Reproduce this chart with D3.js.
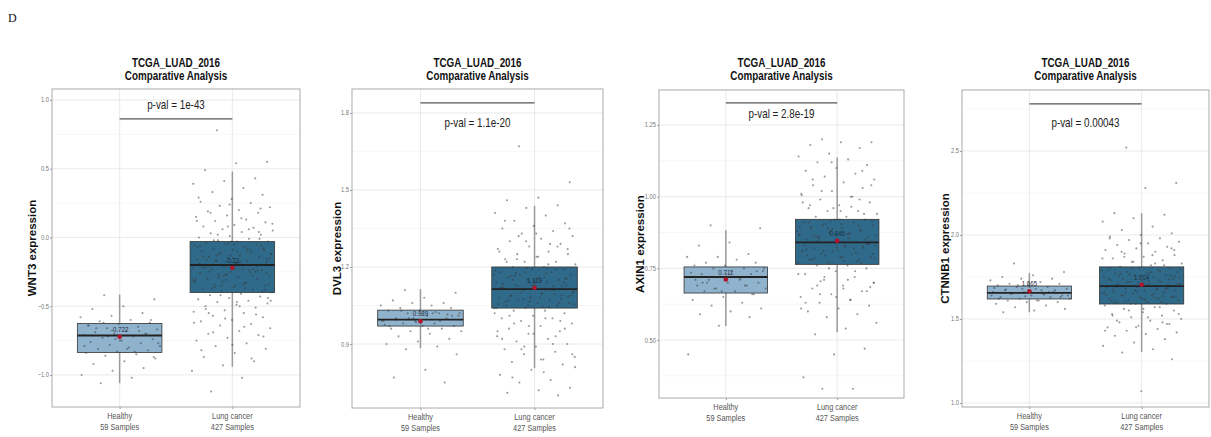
<!DOCTYPE html>
<html><head><meta charset="utf-8">
<script src="https://cdn.jsdelivr.net/npm/d3@7"></script>
<style>body{margin:0;background:#fff}svg{display:block}</style>
</head><body>
<svg id="c" width="1211" height="437"></svg>
<script>
const categories = ["Healthy", "Lung cancer"];
const sampleLabels = ["59  Samples", "427  Samples"];
const genes = ["WNT3", "DVL3", "AXIN1", "CTNNB1"];
const pvals = ["p-val = 1e-43", "p-val = 1.1e-20", "p-val = 2.8e-19", "p-val = 0.00043"];
const yDomains = [[-1.233, 1.08], [0.651, 1.893], [0.298, 1.372], [0.976, 2.863]];
const yTicks = [[-1.0, -0.5, 0.0, 0.5, 1.0], [0.9, 1.2, 1.5, 1.8], [0.50, 0.75, 1.00, 1.25], [1.0, 1.5, 2.0, 2.5]];
const yMinor = [[-0.75, -0.25, 0.25, 0.75], [1.05, 1.35, 1.65], [0.375, 0.625, 0.875, 1.125], [1.25, 1.75, 2.25, 2.75]];
const tickFormats = [".1f", ".1f", ".2f", ".1f"];
const bracketValues = [0.862, 1.839, 1.327, 2.78];
const pvalTextValues = [0.935, 1.745, 1.274, 2.643];
// box stats per panel: [healthy, lung]
const q1 = [[-0.836, -0.40], [0.970, 1.040], [0.664, 0.764], [1.619, 1.589]];
const medians = [[-0.713, -0.20], [0.995, 1.114], [0.720, 0.841], [1.655, 1.696]];
const q3 = [[-0.625, -0.03], [1.032, 1.200], [0.755, 0.921], [1.696, 1.810]];
const whiskLo = [[-1.06, -0.94], [0.884, 0.806], [0.549, 0.527], [1.540, 1.304]];
const whiskHi = [[-0.415, 0.48], [1.114, 1.438], [0.883, 1.137], [1.774, 2.130]];
const means = [[-0.722, -0.22], [0.989, 1.119], [0.711, 0.846], [1.665, 1.704]];
const meanLabels = [["-0.722", "-0.22"], ["0.989", "1.119"], ["0.711", "0.846"], ["1.665", "1.704"]];

const pointsWNT3 = [
 [-0.42,-0.45,-0.50,-0.52,-0.55,-0.57,-0.58,-0.60,-0.61,-0.62,-0.63,-0.64,-0.65,-0.66,-0.67,-0.68,-0.69,-0.70,-0.70,-0.71,-0.72,-0.73,-0.74,-0.75,-0.76,-0.77,-0.78,-0.79,-0.80,-0.81,-0.82,-0.83,-0.84,-0.85,-0.86,-0.88,-0.90,-0.92,-0.95,-0.97,-1.00,-1.02,-1.06,-0.60,-0.75,-0.64,-0.68,-0.72,-0.77,-0.81,-0.66,-0.70,-0.74,-0.79,-0.83,-0.62,-0.87],
 [0.78,0.55,0.54,0.49,0.43,0.41,0.39,0.36,0.33,0.31,0.28,0.26,0.25,0.23,0.22,0.20,0.19,0.18,0.16,0.15,0.13,0.12,0.11,0.09,0.08,0.07,0.06,0.05,0.04,0.03,0.02,0.01,0.00,-0.01,-0.02,-0.03,-0.03,-0.04,-0.05,-0.05,-0.06,-0.07,-0.08,-0.08,-0.09,-0.10,-0.11,-0.11,-0.12,-0.13,-0.14,-0.14,-0.15,-0.16,-0.17,-0.17,-0.18,-0.19,-0.20,-0.20,-0.21,-0.22,-0.23,-0.23,-0.24,-0.25,-0.26,-0.26,-0.27,-0.28,-0.29,-0.30,-0.30,-0.31,-0.32,-0.33,-0.34,-0.35,-0.36,-0.37,-0.38,-0.39,-0.40,-0.41,-0.42,-0.43,-0.44,-0.45,-0.46,-0.47,-0.48,-0.49,-0.50,-0.51,-0.53,-0.54,-0.55,-0.57,-0.58,-0.60,-0.61,-0.63,-0.64,-0.66,-0.68,-0.70,-0.71,-0.73,-0.75,-0.77,-0.79,-0.81,-0.84,-0.87,-0.90,-0.93,-0.97,-1.02,-1.12,-0.06,-0.13,-0.19,-0.24,-0.29,-0.34,-0.10,-0.16,-0.21,-0.27,-0.32,-0.37,-0.02,-0.09,-0.15,-0.22,-0.28,-0.35,-0.12,-0.18,-0.25,
  -0.01,-0.04,-0.07,-0.10,-0.13,-0.16,-0.19,-0.22,-0.25,-0.28,-0.31,-0.34,-0.37,-0.39,-0.03,-0.06,-0.09,-0.12,-0.15,-0.18,-0.21,-0.24,-0.27,-0.30,-0.33,-0.36,-0.38,-0.05,-0.14,-0.23,-0.32,0.10,0.14,0.18,0.21,0.24,0.29,0.06,0.02,-0.44,-0.47,-0.52,-0.56,-0.59,-0.62,-0.65,-0.69,-0.72,-0.78,-0.82,-0.88,-0.42,-0.46,-0.50,-0.55,0.04,0.08,0.12,-0.08,-0.17,-0.26,-0.35]
];
const pointsDVL3 = [
 [1.11,1.10,1.08,1.07,1.06,1.06,1.05,1.05,1.04,1.04,1.03,1.03,1.02,1.02,1.01,1.01,1.00,1.00,0.99,0.99,0.98,0.98,0.97,0.97,0.96,0.96,0.95,0.95,0.94,0.93,0.92,0.91,0.90,0.89,0.88,0.86,0.80,0.77,0.75,1.00,0.99,1.02,1.03,1.01,0.98,0.97,0.99,1.00,1.02,0.96,0.995,1.015,0.985,0.975,1.025],
 [1.67,1.53,1.47,1.46,1.44,1.43,1.41,1.40,1.38,1.37,1.36,1.35,1.34,1.33,1.32,1.31,1.30,1.29,1.28,1.27,1.26,1.25,1.25,1.24,1.23,1.22,1.22,1.21,1.20,1.20,1.19,1.19,1.18,1.18,1.17,1.17,1.16,1.16,1.15,1.15,1.14,1.14,1.13,1.13,1.12,1.12,1.11,1.11,1.10,1.10,1.09,1.09,1.08,1.08,1.07,1.07,1.06,1.06,1.05,1.05,1.04,1.04,1.03,1.03,1.02,1.01,1.00,1.00,0.99,0.98,0.97,0.96,0.95,0.94,0.93,0.92,0.91,0.90,0.89,0.88,0.87,0.86,0.85,0.84,0.83,0.82,0.80,0.78,0.76,0.75,0.73,0.72,0.71,0.70,1.195,1.185,1.175,1.165,1.155,1.145,1.135,1.125,1.115,1.105,1.095,1.085,1.075,1.065,1.055,1.045,1.125,1.085,1.155,1.065,
  1.19,1.18,1.17,1.16,1.15,1.14,1.13,1.12,1.11,1.10,1.09,1.08,1.07,1.06,1.05,1.04,1.195,1.175,1.155,1.135,1.115,1.095,1.075,1.055,1.045,1.165,1.125,1.085,1.26,1.29,1.32,1.35,1.24,1.22,1.28,1.30,1.02,1.00,0.98,0.96,0.94,0.92,0.90,0.88,0.86,0.84,1.01,0.99,0.97,0.95,1.21,1.23,1.27,1.33,1.38,0.93,0.89,0.81,0.79,0.77]
];
const pointsAXIN1 = [
 [0.90,0.89,0.84,0.83,0.80,0.79,0.79,0.78,0.77,0.77,0.76,0.76,0.75,0.75,0.74,0.74,0.73,0.73,0.72,0.72,0.71,0.71,0.70,0.70,0.69,0.69,0.68,0.68,0.67,0.67,0.66,0.65,0.64,0.63,0.62,0.61,0.60,0.59,0.58,0.55,0.45,0.72,0.70,0.74,0.73,0.71,0.69,0.68,0.75,0.72,0.70,0.66,0.67,0.735,0.715],
 [1.20,1.19,1.19,1.18,1.17,1.15,1.14,1.13,1.12,1.11,1.10,1.09,1.08,1.07,1.06,1.05,1.04,1.03,1.02,1.01,1.00,0.99,0.98,0.97,0.96,0.95,0.95,0.94,0.93,0.93,0.92,0.92,0.91,0.91,0.90,0.90,0.89,0.89,0.88,0.88,0.87,0.87,0.86,0.86,0.85,0.85,0.84,0.84,0.83,0.83,0.82,0.82,0.81,0.81,0.80,0.80,0.79,0.79,0.78,0.78,0.77,0.77,0.76,0.76,0.75,0.74,0.73,0.72,0.71,0.70,0.69,0.68,0.67,0.66,0.65,0.64,0.63,0.62,0.61,0.60,0.59,0.58,0.56,0.54,0.52,0.47,0.45,0.37,0.33,0.33,0.915,0.905,0.895,0.885,0.875,0.865,0.855,0.845,0.835,0.825,0.815,0.805,0.795,0.785,0.775,0.865,0.825,0.885,1.005,0.965,0.705,0.685,
  0.92,0.91,0.90,0.89,0.88,0.87,0.86,0.85,0.84,0.83,0.82,0.81,0.80,0.79,0.78,0.77,0.915,0.895,0.875,0.855,0.835,0.815,0.795,0.775,0.905,0.865,0.825,0.785,0.94,0.96,0.98,1.00,1.02,1.04,0.95,0.97,0.99,0.75,0.73,0.71,0.69,0.67,0.65,0.63,0.74,0.72,0.70,0.68,1.06,1.09,1.12,0.61,0.64,0.66]
];
const pointsCTNNB1 = [
 [1.83,1.78,1.76,1.75,1.74,1.74,1.73,1.72,1.71,1.71,1.70,1.70,1.69,1.69,1.68,1.68,1.67,1.67,1.66,1.66,1.65,1.65,1.64,1.64,1.63,1.63,1.62,1.62,1.61,1.61,1.60,1.60,1.59,1.58,1.57,1.56,1.55,1.54,1.66,1.68,1.64,1.67,1.65,1.63,1.69,1.62,1.66,1.70,1.64,1.61,1.675,1.655,1.635,1.685,1.645],
 [2.52,2.31,2.28,2.13,2.12,2.10,2.08,2.05,2.03,2.01,2.00,1.99,1.98,1.97,1.96,1.95,1.94,1.93,1.92,1.91,1.90,1.89,1.88,1.87,1.86,1.85,1.84,1.83,1.82,1.81,1.80,1.80,1.79,1.79,1.78,1.78,1.77,1.77,1.76,1.76,1.75,1.75,1.74,1.74,1.73,1.73,1.72,1.72,1.71,1.71,1.70,1.70,1.69,1.69,1.68,1.68,1.67,1.67,1.66,1.66,1.65,1.65,1.64,1.64,1.63,1.63,1.62,1.62,1.61,1.61,1.60,1.60,1.59,1.59,1.58,1.57,1.56,1.55,1.54,1.53,1.52,1.51,1.50,1.49,1.48,1.47,1.46,1.45,1.44,1.43,1.42,1.41,1.40,1.38,1.36,1.34,1.32,1.30,1.26,1.07,1.805,1.785,1.765,1.745,1.725,1.705,1.685,1.665,1.645,1.625,1.605,1.755,1.715,1.675,1.635,
  1.80,1.79,1.78,1.77,1.76,1.75,1.74,1.73,1.72,1.71,1.70,1.69,1.68,1.67,1.66,1.65,1.64,1.63,1.62,1.61,1.60,1.59,1.795,1.775,1.755,1.735,1.715,1.695,1.675,1.655,1.635,1.615,1.595,1.82,1.84,1.86,1.88,1.90,1.92,1.95,1.98,1.57,1.55,1.53,1.51,1.49,1.47,1.45,1.43,1.83,1.87,1.91,1.56,1.52,1.48]
];
const points = [pointsWNT3, pointsDVL3, pointsAXIN1, pointsCTNNB1];

// layout (pixels)
const panels = [
  {l: 52, t: 89, r: 300, b: 407, ylab: 20},
  {l: 352, t: 89, r: 603, b: 408, ylab: 15},
  {l: 659, t: 90, r: 904, b: 398, ylab: 19},
  {l: 962, t: 90, r: 1209, b: 407, ylab: 17}
];
const boxFill = ["#8fb2cd", "#2f6a8a"];
const sans = "'Liberation Sans',Arial,Helvetica,sans-serif";
const NARROW = 0.82;
const svg = d3.select("#c");

function ntext(g, x, y, str, size, fill, anchor, bold) {
  return g.append("text").attr("transform", `translate(${x},${y}) scale(${NARROW},1)`)
    .attr("text-anchor", anchor || "middle").attr("font-family", sans)
    .attr("font-weight", bold ? "bold" : "normal").attr("font-size", size).attr("fill", fill).text(str);
}

svg.append("text").attr("x", 8).attr("y", 22).text("D")
  .attr("font-family", "'Liberation Serif','DejaVu Serif',serif").attr("font-size", 12).attr("fill", "#111");

panels.forEach((p, i) => {
  const g = svg.append("g");
  const y = d3.scaleLinear().domain(yDomains[i]).range([p.b, p.t]);
  const x = d3.scalePoint().domain(categories).range([p.l, p.r]).padding(0.6);
  const step = x.step();
  const bw = step * 0.75;
  const cx = (p.l + p.r) / 2;

  // grid
  g.selectAll(".minor").data(yMinor[i].filter(v => y(v) > p.t && y(v) < p.b)).join("line")
    .attr("x1", p.l).attr("x2", p.r).attr("y1", d => y(d)).attr("y2", d => y(d))
    .attr("stroke", "#f1f1f1").attr("stroke-width", 0.6);
  g.selectAll(".major").data(yTicks[i]).join("line")
    .attr("x1", p.l).attr("x2", p.r).attr("y1", d => y(d)).attr("y2", d => y(d))
    .attr("stroke", "#e4e4e4").attr("stroke-width", 0.8);
  g.selectAll(".vgrid").data(categories).join("line")
    .attr("x1", d => x(d)).attr("x2", d => x(d)).attr("y1", p.t).attr("y2", p.b)
    .attr("stroke", "#e4e4e4").attr("stroke-width", 0.8);

  // axes
  const ya = g.append("g").attr("transform", `translate(${p.l},0)`)
    .call(d3.axisLeft(y).tickValues(yTicks[i]).tickFormat("").tickSize(2));
  ya.select(".domain").remove();
  ya.selectAll("line").attr("stroke", "#999");
  const fmt = d3.format(tickFormats[i]);
  yTicks[i].forEach(v => ntext(g, p.l - 3, y(v) + 2.5, fmt(v), 7, "#777", "end"));
  const xa = g.append("g").attr("transform", `translate(0,${p.b})`)
    .call(d3.axisBottom(x).tickSize(2).tickFormat(""));
  xa.select(".domain").remove();
  xa.selectAll("line").attr("stroke", "#999");
  categories.forEach((c, k) => {
    ntext(g, x(c), p.b + 12, c, 9, "#555");
    ntext(g, x(c), p.b + 23, sampleLabels[k], 9, "#555");
  });

  // boxes
  categories.forEach((c, k) => {
    const xc = x(c);
    g.append("line").attr("x1", xc).attr("x2", xc).attr("y1", y(whiskHi[i][k])).attr("y2", y(whiskLo[i][k]))
      .attr("stroke", "#9a9a9a").attr("stroke-width", 1.5);
    g.append("rect").attr("x", xc - bw / 2).attr("width", bw)
      .attr("y", y(q3[i][k])).attr("height", y(q1[i][k]) - y(q3[i][k]))
      .attr("fill", boxFill[k]).attr("stroke", "#333").attr("stroke-width", 0.8);
  });

  // jittered points
  categories.forEach((c, k) => {
    const xc = x(c);
    g.selectAll(null).data(points[i][k]).join("circle")
      .attr("cx", (d, j) => xc + (((j * 0.6180339887 + 0.31) % 1) * 2 - 1) * step * 0.36)
      .attr("cy", d => y(d)).attr("r", 1.05)
      .attr("fill", "#3a3a3a").attr("fill-opacity", 0.5);
  });

  categories.forEach((c, k) => {
    const xc = x(c);
    g.append("line").attr("x1", xc - bw / 2).attr("x2", xc + bw / 2)
      .attr("y1", y(medians[i][k])).attr("y2", y(medians[i][k]))
      .attr("stroke", "#222").attr("stroke-width", 1.8);
    g.append("circle").attr("cx", xc).attr("cy", y(means[i][k])).attr("r", 2.3).attr("fill", "#b5132b");
    ntext(g, xc, y(means[i][k]) - 5, meanLabels[i][k], 7.5, "#1c2a3a");
  });

  // panel border
  g.append("rect").attr("x", p.l).attr("y", p.t).attr("width", p.r - p.l).attr("height", p.b - p.t)
    .attr("fill", "none").attr("stroke", "#aaa").attr("stroke-width", 1);

  // bracket
  g.append("line").attr("x1", x(categories[0])).attr("x2", x(categories[1]))
    .attr("y1", y(bracketValues[i])).attr("y2", y(bracketValues[i]))
    .attr("stroke", "#555").attr("stroke-width", 1.3);
  ntext(g, (x(categories[0]) + x(categories[1])) / 2, y(pvalTextValues[i]), pvals[i], 12, "#222");

  // title
  ntext(g, cx, 67, "TCGA_LUAD_2016", 12, "#111", "middle", true);
  ntext(g, cx, 80, "Comparative Analysis", 12, "#111", "middle", true);

  // y label
  g.append("text").attr("transform", `translate(${p.l - p.ylab},${(p.t + p.b) / 2}) rotate(-90)`)
    .attr("text-anchor", "middle").attr("dominant-baseline", "central")
    .attr("font-family", sans).attr("font-weight", "bold").attr("font-size", 11.5)
    .attr("fill", "#111").text(genes[i] + " expression");
});
</script>
</body></html>
